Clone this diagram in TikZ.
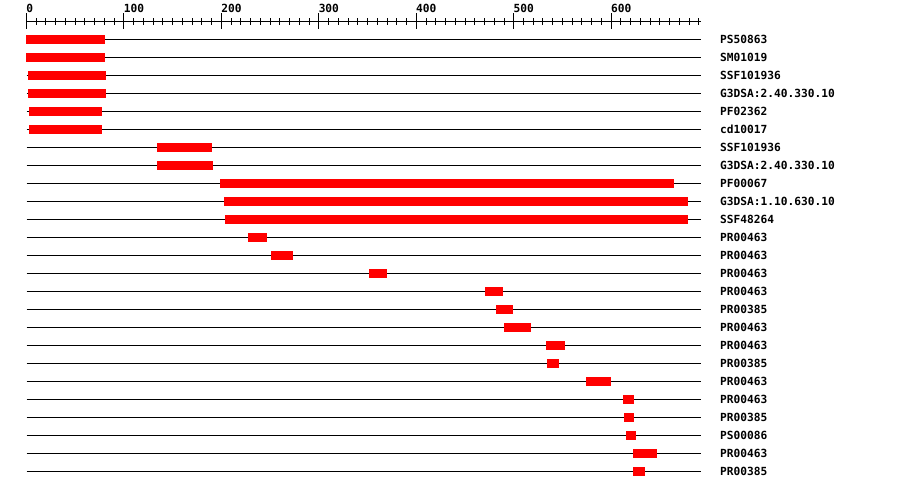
\documentclass[tikz,border=0pt]{standalone}
\usepackage{fontspec}
\newfontfamily\monob{DejaVu Sans Mono}[FakeBold=0]
\begin{document}
\begin{tikzpicture}[x=1pt,y=-1pt,
  lbl/.style={font=\monob\fontsize{11.2}{12}\bfseries\selectfont,inner sep=0pt,anchor=base west},
  rowline/.style={line width=1pt,black},
  barfill/.style={fill={rgb,255:red,255;green,0;blue,0}},
  tickline/.style={line width=1pt,black}]
\useasboundingbox[fill=white] (0,0) rectangle (900,490);
% axis
\coordinate (axA) at (26.5,21);
\coordinate (axB) at (700.5,21);
\draw[tickline] (axA) -- (axB);
\foreach \u in {0,10,...,690}{
  \draw[tickline] ({26.5+\u*0.9745},18) -- ({26.5+\u*0.9745},24.5);
}
\foreach \u in {0,100,...,600}{
  \draw[tickline] ({26.5+\u*0.9745},13) -- ({26.5+\u*0.9745},28.5);
  \node[lbl] (ax\u) at ({26.2+\u*0.9745},12) {\u};
}
% rows
\foreach \s/\e/\t [count=\i] in {
  26/105/PS50863,
  26/105/SM01019,
  28/106/SSF101936,
  28/106/G3DSA:2.40.330.10,
  29/102/PF02362,
  29/102/cd10017,
  157/212/SSF101936,
  157/213/G3DSA:2.40.330.10,
  220/674/PF00067,
  224/688/G3DSA:1.10.630.10,
  225/688/SSF48264,
  248/267/PR00463,
  271/293/PR00463,
  369/387/PR00463,
  485/503/PR00463,
  496/513/PR00385,
  504/531/PR00463,
  546/565/PR00463,
  547/559/PR00385,
  586/611/PR00463,
  623/634/PR00463,
  624/634/PR00385,
  626/636/PS00086,
  633/657/PR00463,
  633/645/PR00385}{
  \pgfmathsetmacro{\yy}{39.5+18*(\i-1)}
  \coordinate (rs\i) at (26.5,\yy);
  \coordinate (re\i) at (701,\yy);
  \draw[rowline] (rs\i) -- (re\i);
  \fill[barfill] (\s,\yy-4.5) rectangle (\e,\yy+4.5);
  \node[lbl] (t\i) at (720,\yy+4.2) {\t};
}
\end{tikzpicture}
\end{document}
